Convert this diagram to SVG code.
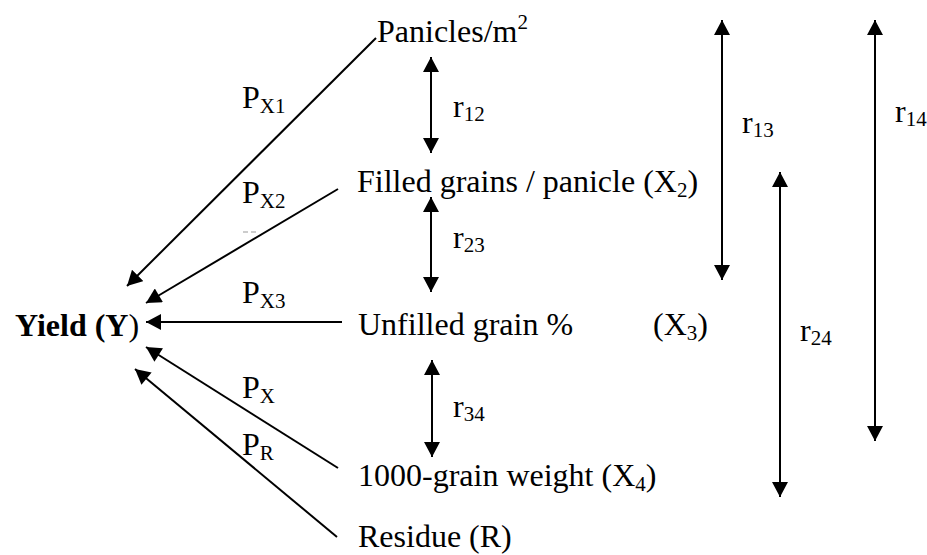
<svg xmlns="http://www.w3.org/2000/svg" width="927" height="555" viewBox="0 0 927 555">
<style>
text{font-family:"Liberation Serif","Times New Roman",serif;font-size:32px;fill:#000}
.s{font-size:21px}
.b{font-weight:bold}
.ln{stroke:#000;stroke-width:2;fill:none}
</style>
<defs>
<marker id="ah" markerUnits="userSpaceOnUse" markerWidth="16" markerHeight="16" viewBox="0 0 15 16" refX="15" refY="8" orient="auto-start-reverse">
<path d="M0,0 L15,8 L0,16 z" fill="#000"/>
</marker>
</defs>
<rect width="927" height="555" fill="#fff"/>
<g id="connectors">
<line class="ln" x1="376" y1="38" x2="127" y2="286" marker-end="url(#ah)"/>
<line class="ln" x1="338" y1="189" x2="146" y2="303" marker-end="url(#ah)"/>
<line class="ln" x1="342" y1="322" x2="146" y2="322" marker-end="url(#ah)"/>
<line class="ln" x1="338" y1="468" x2="146" y2="347" marker-end="url(#ah)"/>
<line class="ln" x1="337" y1="537" x2="135" y2="369" marker-end="url(#ah)"/>
<line class="ln" x1="431" y1="57" x2="431" y2="153" marker-start="url(#ah)" marker-end="url(#ah)"/>
<line class="ln" x1="431" y1="197" x2="431" y2="292" marker-start="url(#ah)" marker-end="url(#ah)"/>
<line class="ln" x1="432" y1="360" x2="432" y2="457" marker-start="url(#ah)" marker-end="url(#ah)"/>
<line class="ln" x1="722" y1="20" x2="722" y2="280" marker-start="url(#ah)" marker-end="url(#ah)"/>
<line class="ln" x1="780" y1="172" x2="780" y2="497" marker-start="url(#ah)" marker-end="url(#ah)"/>
<line class="ln" x1="875" y1="20" x2="875" y2="441" marker-start="url(#ah)" marker-end="url(#ah)"/>
<line x1="243" y1="232" x2="257" y2="232" stroke="#999" stroke-width="1" stroke-dasharray="5,3"/>
<text x="242" y="108">P<tspan class="s" y="113">X1</tspan></text>
<text x="242" y="203">P<tspan class="s" y="208">X2</tspan></text>
<text x="242" y="303">P<tspan class="s" y="308">X3</tspan></text>
<text x="242" y="398">P<tspan class="s" y="403">X</tspan></text>
<text x="242" y="455">P<tspan class="s" y="460">R</tspan></text>
<text x="453" y="117">r<tspan class="s" y="121">12</tspan></text>
<text x="453" y="248">r<tspan class="s" y="252">23</tspan></text>
<text x="453" y="417">r<tspan class="s" y="421">34</tspan></text>
<text x="742" y="133">r<tspan class="s" y="137">13</tspan></text>
<text x="800" y="341">r<tspan class="s" y="345">24</tspan></text>
<text x="895" y="122">r<tspan class="s" y="126">14</tspan></text>
</g>
<g id="yield"><text x="15" y="336" class="b">Yield (Y<tspan font-weight="normal">)</tspan></text></g>
<g id="panicles"><text x="377" y="42">Panicles/m<tspan class="s" y="29">2</tspan></text></g>
<g id="filled"><text x="357" y="192">Filled grains / panicle (X<tspan class="s" y="197">2</tspan><tspan y="192">)</tspan></text></g>
<g id="unfilled"><text x="358" y="335">Unfilled grain %</text><text x="653" y="335">(X<tspan class="s" y="340">3</tspan><tspan y="335">)</tspan></text></g>
<g id="weight"><text x="358" y="486">1000-grain weight (X<tspan class="s" y="491">4</tspan><tspan y="486">)</tspan></text></g>
<g id="residue"><text x="358" y="547">Residue (R)</text></g>
</svg>
